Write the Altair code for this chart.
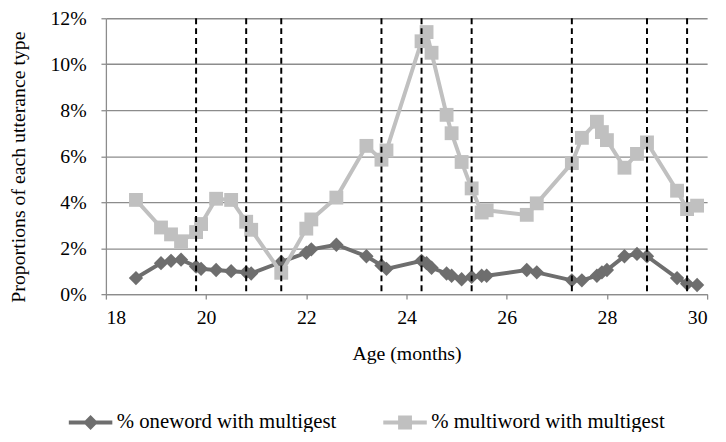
import altair as alt
import pandas as pd

# ---- data ----
ages = [18.6, 19.1, 19.3, 19.5, 19.8, 19.9, 20.2, 20.5, 20.8, 20.9, 21.5, 22.0, 22.1,
        22.6, 23.2, 23.5, 23.6, 24.3, 24.4, 24.5, 24.8, 24.9, 25.1, 25.3, 25.5, 25.6,
        26.4, 26.6, 27.3, 27.5, 27.8, 27.9, 28.0, 28.35, 28.6, 28.8, 29.4, 29.6, 29.8]
oneword = [0.7, 1.35, 1.45, 1.5, 1.2, 1.1, 1.05, 1.0, 0.95, 0.9, 1.4, 1.8, 1.95,
           2.15, 1.65, 1.25, 1.1, 1.45, 1.35, 1.15, 0.9, 0.8, 0.65, 0.75, 0.8, 0.8,
           1.05, 0.95, 0.6, 0.6, 0.8, 0.95, 1.05, 1.65, 1.75, 1.65, 0.7, 0.45, 0.4]
multiword = [4.1, 2.9, 2.6, 2.3, 2.7, 3.05, 4.15, 4.1, 3.15, 2.8, 0.93, 2.85, 3.25,
             4.2, 6.45, 5.85, 6.25, 11.0, 11.4, 10.5, 7.8, 7.0, 5.75, 4.6, 3.55, 3.65,
             3.45, 3.95, 5.7, 6.8, 7.5, 7.05, 6.7, 5.5, 6.1, 6.6, 4.5, 3.7, 3.85]
dashed_ages = [19.8, 20.8, 21.5, 23.5, 24.3, 25.3, 27.3, 28.8, 29.6]
series_names = ["% oneword with multigest", "% multiword with multigest"]
x_ticks = [18, 20, 22, 24, 26, 28, 30]
y_ticks = [0, 2, 4, 6, 8, 10, 12]

colors = ["#6e6e6e", "#c0c0c0"]
FONT = "'Liberation Serif', 'Times New Roman', 'DejaVu Serif', serif"

rows = []
for a, v in zip(ages, oneword):
    rows.append({"age": a, "value": v, "series": series_names[0]})
for a, v in zip(ages, multiword):
    rows.append({"age": a, "value": v, "series": series_names[1]})
df = pd.DataFrame(rows)
dash_df = pd.DataFrame({"age": dashed_ages})

x = alt.X("age:Q",
          scale=alt.Scale(domain=[18, 30], nice=False, zero=False),
          axis=alt.Axis(values=x_ticks, title="Age (months)", grid=False, tickSize=5,
                        labelPadding=9, titleY=60, titleBaseline="middle"))
y = alt.Y("value:Q",
          scale=alt.Scale(domain=[0, 12], nice=False, zero=True),
          axis=alt.Axis(values=y_ticks, labelExpr="datum.value + '%'",
                        title="Proportions of each utterance type", grid=True,
                        tickSize=5, labelPadding=15, titleX=-88, titleY=150,
                        titleBaseline="middle", titleAlign="center"))

base = alt.Chart(df)
line1 = base.transform_filter(alt.datum.series == series_names[0]).mark_line(
    color=colors[0], strokeWidth=4).encode(x=x, y=y)
pts1 = base.transform_filter(alt.datum.series == series_names[0]).mark_point(
    shape="diamond", filled=True, size=210, color=colors[0], opacity=1).encode(x=x, y=y)
line2 = base.transform_filter(alt.datum.series == series_names[1]).mark_line(
    color=colors[1], strokeWidth=4).encode(x=x, y=y)
pts2 = base.transform_filter(alt.datum.series == series_names[1]).mark_point(
    shape="square", filled=True, size=196, color=colors[1], opacity=1).encode(x=x, y=y)

rules = alt.Chart(dash_df).mark_rule(color="black", strokeDash=[6, 4], strokeWidth=2).encode(
    x=alt.X("age:Q"))

diamond_line = "M-2.2,-0.2L2.2,-0.2L2.2,0.2L-2.2,0.2Z M0,-0.75L0.75,0L0,0.75L-0.75,0Z"
square_line = "M-2.2,-0.2L2.2,-0.2L2.2,0.2L-2.2,0.2Z M-0.7,-0.7L0.7,-0.7L0.7,0.7L-0.7,0.7Z"

leg = alt.Legend(orient="none", legendX=-26, legendY=398, direction="horizontal",
                 title=None, labelFont=FONT, labelFontSize=21, labelColor="black",
                 labelLimit=0, symbolSize=400, labelOffset=16, columnPadding=46,
                 padding=0, symbolStrokeWidth=0)
legend_layer = base.transform_filter("false").mark_point(
    filled=True, opacity=1, size=400).encode(
    x=x, y=y,
    shape=alt.Shape("series:N", scale=alt.Scale(domain=series_names,
                                                range=[diamond_line, square_line]), legend=leg),
    color=alt.Color("series:N", scale=alt.Scale(domain=series_names, range=colors), legend=leg))

chart = alt.layer(line1, pts1, line2, pts2, rules, legend_layer).properties(
    width=608, height=279,
    padding={"left": 99, "top": 8, "right": 11, "bottom": 137},
    autosize=alt.AutoSizeParams(type="none"),
).configure_view(strokeWidth=0).configure_axis(
    labelFont=FONT, titleFont=FONT, labelFontSize=20, titleFontSize=20,
    titleFontWeight="normal", labelColor="black", titleColor="black",
    domainColor="#8c8c8c", tickColor="#8c8c8c", gridColor="#8c8c8c",
    domainWidth=1.3, tickWidth=1.3, gridWidth=1.3)

chart.save("out.html", embed_options={"renderer": "svg", "actions": False})
